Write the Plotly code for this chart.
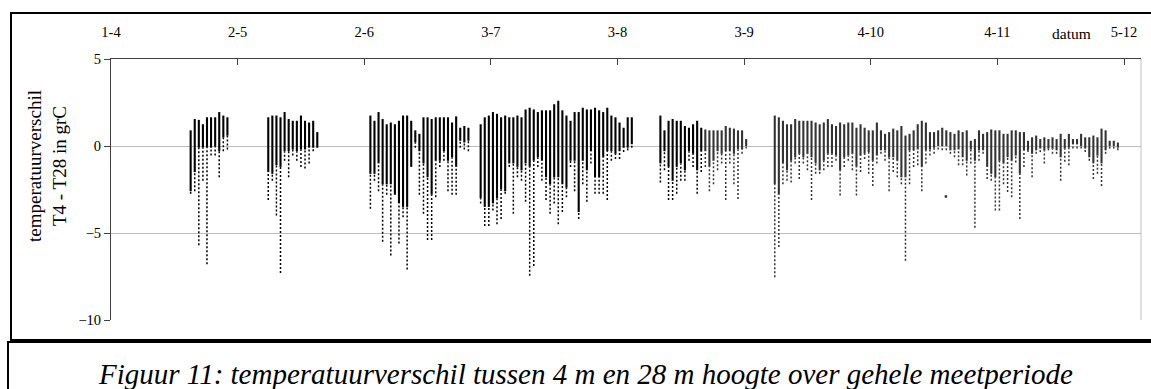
import plotly.graph_objects as go

# ---------------- data ----------------
tick_days = [0, 31, 62, 93, 124, 155, 186, 217, 248]
tick_labels = ["1-4", "2-5", "2-6", "3-7", "3-8", "3-9", "4-10", "4-11", "5-12"]

# day index (days after 1 April), per-day highest value, lower end of dense band, lowest value
day = list(range(19, 29)) + list(range(38, 51)) + list(range(63, 88)) + list(range(90, 128)) \
    + list(range(134, 156)) + list(range(162, 247))

hi = [
    # 19-28
    0.9, 1.55, 1.5, 1.25, 1.65, 1.65, 1.65, 1.95, 1.75, 1.65,
    # 38-50
    1.65, 1.75, 1.75, 1.65, 1.95, 1.55, 1.45, 1.45, 1.75, 1.45, 1.35, 1.45, 0.8,
    # 63-87
    1.75, 1.45, 1.95, 1.55, 1.25, 1.35, 1.25, 1.45, 1.75, 1.75, 1.45, 0.9, 0.7,
    1.65, 1.65, 1.55, 1.65, 1.65, 1.65, 1.65, 1.35, 1.7, 1.05, 1.15, 1.05,
    # 90-127
    1.25, 1.65, 1.75, 1.95, 1.85, 1.65, 1.75, 1.65, 1.65, 1.75, 1.65, 2.1, 2.2,
    2.1, 1.95, 2.05, 2.05, 2.05, 2.4, 2.6, 2.05, 1.75, 1.45, 1.95, 1.95, 2.2,
    2.1, 2.1, 2.2, 2.05, 1.95, 2.2, 1.75, 1.65, 1.35, 1.05, 1.65, 1.65,
    # 134-155
    1.75, 0.9, 1.45, 1.55, 1.45, 1.45, 1.15, 1.05, 1.25, 1.45, 1.05, 0.95, 0.9,
    0.9, 0.9, 0.9, 1.15, 1.05, 1.0, 0.9, 0.9, 0.4,
    # 162-246
    1.75, 1.65, 1.45, 1.25, 1.25, 1.55, 1.45, 1.45, 1.45, 1.45, 1.35, 1.25, 1.35,
    1.55, 1.25, 1.15, 1.35, 1.25, 1.35, 1.35, 1.05, 1.25, 1.05, 0.9, 0.9, 1.35,
    0.9, 0.7, 0.8, 1.0, 0.9, 1.15, 0.6, 0.7, 0.9, 1.25, 1.45, 1.35, 0.8, 0.8,
    0.9, 1.05, 0.9, 0.8, 0.7, 0.9, 0.8, 0.9, 0.3, 0.4, 0.9, 0.7, 0.8, 0.95, 0.9,
    0.9, 0.7, 0.7, 0.9, 0.9, 0.8, 0.8, 0.3, 0.5, 0.6, 0.4, 0.5, 0.4, 0.5, 0.4,
    0.7, 0.4, 0.7, 0.4, 0.4, 0.7, 0.5, 0.5, 0.6, 0.5, 1.0, 0.9, 0.3, 0.3, 0.2,
]

core = [
    # 19-28
    -2.6, -1.5, -0.1, -0.1, -0.1, -0.1, 0.0, -0.3, 0.5, 0.6,
    # 38-50
    -1.5, -1.6, -1.1, -1.2, -0.3, -0.3, -0.2, -0.3, -0.2, -0.2, -0.1, -0.1, -0.1,
    # 63-87
    -1.6, -1.6, -1.0, -2.2, -2.2, -2.2, -2.8, -3.3, -3.5, -3.5, -1.2, 0.2, -0.3,
    -1.0, -1.8, -2.8, -0.85, -0.85, -0.3, -0.85, -0.65, -1.2, 0.3, 0.2, 0.3,
    # 90-127
    -3.0, -3.5, -3.5, -3.3, -3.0, -2.5, -2.6, -1.0, -1.0, -1.2, -1.4, -1.0, -1.2,
    -0.85, -0.65, -0.85, -1.8, -2.2, -1.8, -1.8, -2.2, -2.4, -0.85, -0.85, -3.8, -0.85,
    -1.4, -0.3, -1.8, -1.8, -0.65, -0.3, -0.3, -0.45, -0.3, -0.1, -0.1, 0.1,
    # 134-155
    -1.0, -0.3, -1.2, -2.0, -1.2, -1.0, -1.4, -0.3, -0.45, -1.4, -0.3, -0.3, -1.2,
    -0.85, -0.3, -0.45, -0.3, -0.3, -0.45, -0.2, -0.2, 0.0,
    # 162-246
    -2.2, -2.8, -1.0, -1.4, -0.85, -0.65, -0.45, -0.65, -0.45, -0.65, -1.0, -1.4, -0.85,
    -0.45, -0.45, -0.55, -1.4, -0.65, -0.55, -0.45, -1.2, -0.55, -0.45, -0.35, -0.85, -0.55,
    -0.25, -0.25, -0.65, -0.65, -0.85, -1.8, -1.8, -0.25, -0.25, -0.2, -1.2, -0.25, -0.2, -0.1,
    0.0, 0.0, 0.0, -0.25, -0.25, -0.2, -0.65, -0.85, -0.2, -0.85, -0.25, -0.25, -1.2, -1.6, -1.8,
    -0.85, -1.0, -0.65, -0.85, -0.55, -1.6, -0.25, -0.25, -0.45, -0.25, -0.15, -0.25, -0.15, -0.15, -0.25,
    -0.65, -0.15, -0.1, 0.1, 0.1, 0.0, -0.15, -0.65, -1.0, -0.55, -1.0, -0.25, 0.0, 0.0, -0.1,
]

lo = [
    # 19-28
    -2.75, -2.6, -5.7, -2.0, -6.8, -0.55, -0.55, -1.8, -0.3, -0.2,
    # 38-50
    -3.1, -2.0, -4.0, -7.3, -0.85, -1.8, -0.55, -0.85, -1.2, -1.3, -1.0, -0.3, -0.1,
    # 63-87
    -3.6, -2.0, -2.6, -5.5, -2.8, -6.3, -2.8, -5.6, -4.1, -7.1, -1.2, -0.1, -2.8,
    -3.9, -5.4, -5.4, -2.95, -1.2, -0.85, -2.6, -2.8, -2.8, -0.1, -0.2, -0.3,
    # 90-127
    -3.3, -4.6, -4.6, -3.7, -4.5, -4.2, -2.75, -1.2, -3.9, -1.8, -2.0, -3.2, -7.45,
    -6.9, -1.2, -2.0, -3.1, -3.9, -3.3, -4.5, -3.8, -2.95, -1.2, -2.6, -4.2, -2.2,
    -3.2, -1.0, -2.75, -2.75, -2.75, -3.1, -0.85, -0.75, -0.75, -0.35, -0.25, -0.1,
    # 134-155
    -2.1, -1.4, -3.1, -3.1, -2.75, -2.0, -2.0, -0.85, -1.2, -2.75, -1.5, -1.2, -2.6,
    -2.2, -1.4, -1.0, -3.1, -1.0, -2.2, -3.05, -0.45, -0.15,
    # 162-246
    -7.55, -5.8, -2.2, -2.0, -2.1, -1.0, -1.9, -1.0, -1.4, -3.1, -1.6, -1.6, -1.4,
    -1.2, -1.2, -0.85, -2.85, -1.2, -0.85, -1.4, -2.85, -1.5, -0.75, -1.6, -2.3, -1.0,
    -0.45, -0.85, -2.6, -1.5, -1.8, -2.2, -6.6, -2.2, -1.2, -1.1, -2.6, -1.0, -0.55, -0.45,
    -0.2, -0.25, -0.25, -0.45, -0.65, -1.1, -1.1, -1.7, -1.0, -4.7, -0.85, -0.45, -1.9, -2.0, -3.7,
    -3.7, -2.2, -2.65, -2.95, -0.95, -4.2, -1.2, -0.35, -1.8, -0.45, -0.35, -1.0, -0.25, -0.45, -0.45,
    -2.0, -0.9, -1.1, -0.15, -0.15, -0.15, -0.35, -0.85, -1.9, -1.6, -2.3, -0.45, -0.15, -0.15, -0.25,
]

outlier_day = [204.4]
outlier_val = [-2.9]

# ---------------- styling constants ----------------
W, H = 1151, 389
PL, PR, PT, PB = 111, 1141, 59, 320          # plot area in pixels
SERIF = "Liberation Serif, Times New Roman, serif"
GREY_FROM_DAY = 145                           # later part of the record is drawn dark grey


def px_x(px):
    return (px - PL) / (PR - PL)


def px_y(py):
    return (PB - py) / (PB - PT)


def segments(xs, y0s, y1s):
    X, Y = [], []
    for x, a, b in zip(xs, y0s, y1s):
        X += [x, x, None]
        Y += [a, b, None]
    return X, Y


fig = go.Figure()

for part, colour in (("early", "#000000"), ("late", "#333333")):
    idx = [i for i, d in enumerate(day) if (d < GREY_FROM_DAY) == (part == "early")]
    xs = [day[i] + 0.5 for i in idx]
    # sparse tail (dotted)
    X, Y = segments(xs, [lo[i] for i in idx], [core[i] for i in idx])
    fig.add_trace(go.Scatter(x=X, y=Y, mode="lines", hoverinfo="skip", showlegend=False,
                             line=dict(color=colour, width=1.5, dash="2px,2px")))
    # dense band
    X, Y = segments(xs, [core[i] for i in idx], [hi[i] for i in idx])
    fig.add_trace(go.Scatter(x=X, y=Y, mode="lines", hoverinfo="skip", showlegend=False,
                             line=dict(color=colour, width=2.1)))

fig.add_trace(go.Scatter(x=outlier_day, y=outlier_val, mode="markers", showlegend=False,
                         marker=dict(color="#333333", size=2.5, symbol="square")))

fig.update_layout(
    width=W, height=H,
    margin=dict(l=PL, r=W - PR, t=PT, b=H - PB),
    paper_bgcolor="white", plot_bgcolor="white",
    font=dict(family=SERIF, color="black", size=14),
    xaxis=dict(
        range=[0, (PR - PL) / ((1124 - PL) / 248)], side="top",
        tickvals=tick_days, ticktext=tick_labels,
        ticks="inside", ticklen=6, tickcolor="#404040",
        showgrid=False, zeroline=False,
        showline=True, linecolor="#404040", linewidth=1,
        ticklabelstandoff=15,
        tickfont=dict(family=SERIF, size=14.5, color="black"),
    ),
    yaxis=dict(
        range=[-10, 5], tickvals=[-10, -5, 0, 5],
        ticks="outside", ticklen=6, tickcolor="#404040",
        showgrid=True, gridcolor="#bdbdbd", gridwidth=1,
        zeroline=False,
        showline=True, linecolor="#404040", linewidth=1,
        tickfont=dict(family=SERIF, size=14.5, color="black"),
    ),
    shapes=[
        dict(type="line", xref="paper", yref="paper", x0=1, x1=1, y0=0, y1=1,
             line=dict(color="#c0c0c0", width=1)),
        dict(type="rect", xref="paper", yref="paper",
             x0=px_x(11), x1=px_x(1165), y0=px_y(340), y1=px_y(13),
             line=dict(color="black", width=2)),
        dict(type="rect", xref="paper", yref="paper",
             x0=px_x(8), x1=px_x(1165), y0=px_y(400), y1=px_y(342),
             line=dict(color="black", width=2)),
    ],
    annotations=[
        dict(text="datum", xref="paper", yref="paper", x=px_x(1071), y=px_y(33),
             showarrow=False, xanchor="center", yanchor="middle",
             font=dict(family=SERIF, size=15.5, color="black")),
        dict(text="temperatuurverschil<br>T4 - T28 in grC", xref="paper", yref="paper",
             x=px_x(47), y=px_y(166), textangle=-90, showarrow=False,
             xanchor="center", yanchor="middle",
             font=dict(family=SERIF, size=19, color="black")),
        dict(text="<i>Figuur 11: temperatuurverschil tussen 4 m en 28 m hoogte over gehele meetperiode</i>",
             xref="paper", yref="paper", x=px_x(585), y=px_y(374),
             showarrow=False, xanchor="center", yanchor="middle",
             font=dict(family=SERIF, size=29, color="black")),
    ],
)

fig.write_html("out.html")
